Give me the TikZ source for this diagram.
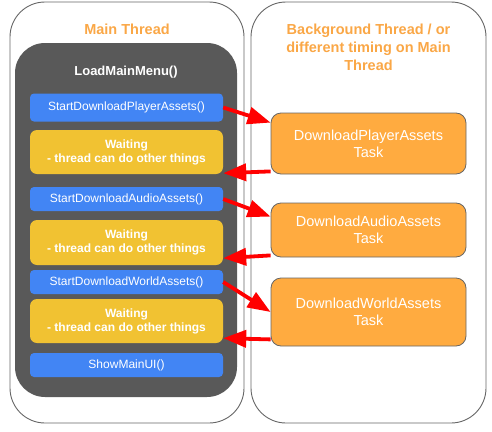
\documentclass[tikz,border=0pt]{standalone}
\usepackage{fontspec}
\setmainfont{Liberation Sans}
\usetikzlibrary{arrows.meta}
\definecolor{cblue}{HTML}{4285F4}
\definecolor{cyellow}{HTML}{F1C232}
\definecolor{corange}{HTML}{FFAB40}
\definecolor{ctitle}{HTML}{FAA746}
\definecolor{cdark}{HTML}{595959}
\definecolor{cedge}{HTML}{666666}
\begin{document}
\begin{tikzpicture}[x=1pt,y=-1pt,
  panel/.style={draw=cedge,line width=0.9pt,rounded corners=35pt,minimum width=#1,minimum height=421pt,inner sep=0pt},
  title/.style={text=ctitle,font=\fontsize{14.5}{18}\selectfont\bfseries,align=center},
  bluebox/.style={fill=cblue,rounded corners=4pt,minimum width=193pt,minimum height=#1,inner sep=0pt,text=white,font=\fontsize{12}{14}\selectfont},
  waitbox/.style={fill=cyellow,rounded corners=7pt,minimum width=193pt,minimum height=44pt,inner sep=0pt,text=white,align=center,font=\fontsize{12}{14}\selectfont\bfseries},
  taskbox/.style={fill=corange,draw=cedge,line width=0.8pt,rounded corners=10pt,minimum width=195pt,minimum height=#1,inner sep=0pt,text=white,align=center,font=\fontsize{14.5}{17}\selectfont},
  redarrow/.style={draw=red,line width=3.8pt,-{Triangle[length=23pt,width=17pt]}}
]
\useasboundingbox (0,0) rectangle (492,431);
\node[panel=234pt] (lp) at (127,212.5) {};
\node[panel=235pt] (rp) at (368.5,212.5) {};
\node[title] (lt) at (127,29) {Main Thread};
\node[title] (rt) at (368.5,47) {Background Thread / or\\different timing on Main\\Thread};
\node[fill=cdark,rounded corners=30pt,minimum width=222pt,minimum height=354pt,inner sep=0pt] (dk) at (126,220) {};
\node[text=white,font=\fontsize{13}{15}\selectfont\bfseries] (lm) at (126,72) {LoadMainMenu()};
\node[bluebox=28pt] (b1) at (126.5,107.5) {StartDownloadPlayerAssets()};
\node[waitbox] (y1) at (126.5,152) {Waiting\\- thread can do other things};
\node[bluebox=24pt] (b2) at (126.5,199) {StartDownloadAudioAssets()};
\node[waitbox,minimum height=45pt] (y2) at (126.5,242.5) {Waiting\\- thread can do other things};
\node[bluebox=24pt] (b3) at (126.5,282) {StartDownloadWorldAssets()};
\node[waitbox] (y3) at (126.5,321) {Waiting\\- thread can do other things};
\node[bluebox=24pt] (b4) at (126.5,365) {ShowMainUI()};
\node[taskbox=61pt] (t1) at (368.5,143.5) {DownloadPlayerAssets\\Task};
\node[taskbox=54pt] (t2) at (368.5,230) {DownloadAudioAssets\\Task};
\node[taskbox=68pt] (t3) at (368.5,312) {DownloadWorldAssets\\Task};
\draw[redarrow] (b1.east) -- ([yshift=-10pt]t1.north west);
\draw[redarrow] ([yshift=3pt]t1.south west) -- ([yshift=1pt]y1.south east);
\draw[redarrow] (b2.east) -- ([yshift=-14pt]t2.north west);
\draw[redarrow] ([yshift=2pt]t2.south west) -- ([yshift=7pt]y2.south east);
\draw[redarrow] (b3.east) -- (t3.west);
\draw[redarrow] ([yshift=7pt]t3.south west) -- ([yshift=5pt]y3.south east);
\end{tikzpicture}
\end{document}
